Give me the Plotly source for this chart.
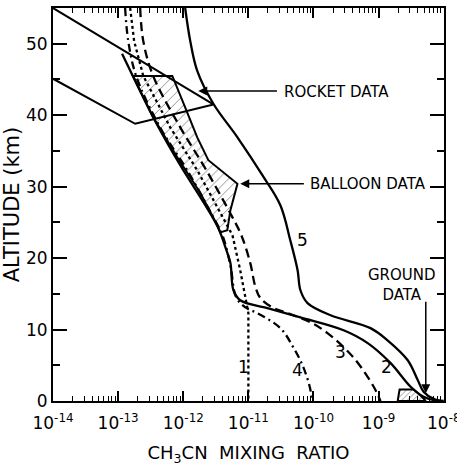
import plotly.graph_objects as go
import numpy as np

# ---- data (mixing ratio, altitude km) ----
c1_x = [1.53e-13, 1.76e-13, 2.43e-13, 6.3e-13, 1.64e-12, 4.1e-12, 5.7e-12, 7.5e-12, 9.0e-12, 1.0e-11, 1.0e-11]
c1_y = [55.0, 50.4, 45.5, 38.3, 32.3, 25.7, 23.2, 18.3, 14.5, 12.3, 0.0]

c2_x = [1.15e-13, 1.83e-13, 3.7e-13, 9.0e-13, 2.18e-12, 3.45e-12, 4.6e-12, 5.3e-12, 5.9e-12, 7.5e-12,
        1.96e-11, 6.3e-11, 2.9e-10, 6.8e-10, 1.53e-9, 3.1e-9, 4.9e-9, 8.1e-9]
c2_y = [48.6, 44.8, 39.2, 33.0, 27.4, 24.2, 21.1, 19.3, 15.5, 14.1,
        13.0, 11.7, 9.9, 8.1, 5.3, 2.0, 0.6, 0.0]

c3_x = [2.18e-13, 2.43e-13, 3.45e-13, 9.0e-13, 2.26e-12, 5.7e-12, 7.8e-12, 1.07e-11, 1.28e-11, 1.53e-11,
        2.43e-11, 4.0e-11, 9.0e-11, 1.64e-10, 4.1e-10, 8.4e-10, 1.07e-9]
c3_y = [55.0, 50.4, 45.5, 38.3, 32.3, 25.7, 23.2, 19.3, 16.0, 14.4,
        13.0, 12.3, 11.0, 9.5, 6.1, 2.0, 0.0]

c4_x = [1.28e-13, 1.43e-13, 1.89e-13, 4.4e-13, 1.15e-12, 2.9e-12, 4.0e-12, 5.3e-12, 6.5e-12, 9.0e-12,
        1.37e-11, 3.1e-11, 4.9e-11, 7.0e-11, 9.0e-11, 9.3e-11]
c4_y = [55.0, 50.4, 45.5, 38.3, 32.3, 25.7, 23.2, 19.0, 14.5, 13.1,
        12.3, 10.2, 7.5, 4.7, 1.5, 0.0]

c5_x = [1.07e-12, 1.28e-12, 1.64e-12, 2.9e-12, 6.8e-12, 1.64e-11, 3.1e-11, 4.4e-11, 5.7e-11, 6.3e-11,
        8.1e-11, 1.83e-10, 7.5e-10, 1.37e-9, 2.8e-9, 4.0e-9, 4.9e-9, 7.0e-9, 1.0e-8]
c5_y = [55.0, 50.4, 46.2, 41.6, 36.9, 31.6, 27.4, 22.5, 18.3, 15.5,
        13.7, 12.0, 10.2, 8.5, 5.7, 2.9, 1.3, 0.3, 0.0]

balloon_x = [1.83e-13, 6.8e-13, 1.07e-12, 1.64e-12, 2.43e-12, 6.8e-12, 5.3e-12, 4.75e-12, 3.7e-12,
             3.33e-12, 1.83e-12, 8.1e-13, 3.45e-13, 1.7e-13, 1.83e-13]
balloon_y = [45.5, 45.5, 41.1, 36.9, 33.7, 30.4, 26.7, 23.9, 23.6, 24.6, 29.1, 34.1, 39.7, 45.5, 45.5]

rocket_x = [1e-14, 2.9e-12, 1.83e-13, 1e-14]
rocket_y = [55.0, 41.5, 38.8, 45.1]

ground_x = [1.96e-9, 2.1e-9, 3.45e-9, 4.5e-9, 5.3e-9, 1.96e-9]
ground_y = [0.0, 1.6, 1.6, 0.7, 0.0, 0.0]

decades = [1e-14, 1e-13, 1e-12, 1e-11, 1e-10, 1e-9, 1e-8]
decade_labels = ["10<sup>-14</sup>", "10<sup>-13</sup>", "10<sup>-12</sup>", "10<sup>-11</sup>",
                 "10<sup>-10</sup>", "10<sup>-9</sup>", "10<sup>-8</sup>"]
minor_x = [m * d for d in decades[:-1] for m in range(2, 10)]
alt_ticks = [0, 10, 20, 30, 40, 50]
alt_minor = [5, 15, 25, 35, 45]

FONT = "DejaVu Sans"
K = "black"
LW = 2.3

fig = go.Figure()
fig.add_trace(go.Scatter(x=balloon_x, y=balloon_y, mode="lines", fill="toself",
                         fillcolor="white", line=dict(color=K, width=2),
                         fillpattern=dict(shape="/", fgcolor=K, bgcolor="white", size=7, solidity=0.12)))
fig.add_trace(go.Scatter(x=ground_x, y=ground_y, mode="lines", fill="toself",
                         line=dict(color=K, width=2),
                         fillpattern=dict(shape="/", fgcolor=K, bgcolor="white", size=4, solidity=0.2)))
fig.add_trace(go.Scatter(x=rocket_x, y=rocket_y, mode="lines", line=dict(color=K, width=2)))
fig.add_trace(go.Scatter(x=c1_x, y=c1_y, mode="lines", line=dict(color=K, width=LW, dash="dot")))
fig.add_trace(go.Scatter(x=c2_x, y=c2_y, mode="lines", line=dict(color=K, width=LW), line_shape="spline"))
fig.add_trace(go.Scatter(x=c3_x, y=c3_y, mode="lines", line=dict(color=K, width=LW, dash="9px,5px"), line_shape="spline"))
fig.add_trace(go.Scatter(x=c4_x, y=c4_y, mode="lines", line=dict(color=K, width=LW, dash="8px,4px,2px,4px"), line_shape="spline"))
fig.add_trace(go.Scatter(x=c5_x, y=c5_y, mode="lines", line=dict(color=K, width=LW), line_shape="spline"))

ann = []
def lab(txt, lx, y, size=17, **kw):
    d = dict(text=txt, x=np.log10(lx), y=y, xref="x", yref="y", showarrow=False,
             font=dict(family=FONT, size=size, color=K))
    d.update(kw)
    ann.append(d)

lab("1", 8.4e-12, 4.7)
lab("2", 1.3e-9, 4.7)
lab("3", 2.6e-10, 6.8)
lab("4", 5.7e-11, 4.3)
lab("5", 6.8e-11, 22.5)
lab("ROCKET DATA", 3.3e-11, 43.3, size=15, xanchor="left")
lab("BALLOON DATA", 8.2e-11, 30.3, size=15, xanchor="left")
lab("GROUND<br>DATA", 2.25e-9, 16.3, size=15)

def arrow(hx, hy, tx, ty):
    ann.append(dict(text="", x=np.log10(hx), y=hy, ax=np.log10(tx), ay=ty, xref="x", yref="y",
                    axref="x", ayref="y", showarrow=True, arrowhead=2, arrowsize=1.2,
                    arrowwidth=1.5, arrowcolor=K))

arrow(1.7e-12, 43.4, 2.9e-11, 43.4)
arrow(7.5e-12, 30.4, 7.5e-11, 30.4)
arrow(5.3e-9, 1.1, 5.3e-9, 14.1)

fig.update_layout(
    width=457, height=466, margin=dict(l=53, r=13, t=8, b=65),
    paper_bgcolor="white", plot_bgcolor="white", showlegend=False,
    annotations=ann,
    font=dict(family=FONT, color=K),
)
fig.update_xaxes(type="log", range=[-14, -7.996], showgrid=False, zeroline=False,
                 showline=True, linecolor=K, linewidth=2, mirror="ticks", automargin=False,
                 ticks="inside", ticklen=10, tickwidth=1.5, tickcolor=K,
                 tickvals=decades, ticktext=decade_labels, ticklabelstandoff=6,
                 ticklabeloverflow="allow",
                 tickfont=dict(family=FONT, size=17, color=K),
                 minor=dict(tickvals=minor_x, ticks="inside", ticklen=5, tickwidth=1.3, tickcolor=K, showgrid=False),
                 title=dict(text="CH<sub>3</sub>CN  MIXING  RATIO", font=dict(family=FONT, size=18, color=K), standoff=14))
fig.update_yaxes(range=[0, 55], showgrid=False, zeroline=False,
                 showline=True, linecolor=K, linewidth=2, mirror="ticks", automargin=False,
                 ticks="inside", ticklen=14, tickwidth=1.8, tickcolor=K,
                 tickvals=alt_ticks, tickfont=dict(family=FONT, size=17, color=K),
                 minor=dict(tickvals=alt_minor, ticks="inside", ticklen=7, tickwidth=1.5, tickcolor=K, showgrid=False),
                 title=dict(text="ALTITUDE (km)", font=dict(family=FONT, size=21, color=K), standoff=1))

fig.write_html("out.html")
